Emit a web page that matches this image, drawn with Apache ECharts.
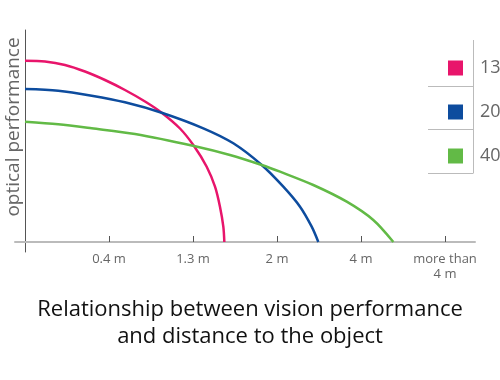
<!DOCTYPE html>
<html>
<head>
<meta charset="utf-8">
<script src="https://cdn.jsdelivr.net/npm/echarts@6/dist/echarts.min.js"></script>
<style>html,body{margin:0;padding:0;background:#fff}#c{width:500px;height:380px}</style>
</head>
<body>
<div id="c"></div>
<script>
// Category tick positions and labels on the distance axis
var tickValues = [1, 2, 3, 4, 5];
var tickLabels = ['0.4 m', '1.3 m', '2 m', '4 m', 'more than\n4 m'];
// Series names (legend)
var seriesNames = ['13', '20', '40'];
// Distance (x) and optical performance (y) pairs
var redX   = [0, 0.238, 0.476, 0.714, 0.952, 1.190, 1.429, 1.627, 1.845, 2.012, 2.163, 2.262, 2.321, 2.361, 2.373];
var redY   = [181.3, 180.5, 177, 170.5, 162, 152, 140.5, 129.3, 113.5, 96, 75.3, 55.3, 35.3, 15.3, 0];
var blueX  = [0, 0.396, 0.794, 1.190, 1.627, 2.123, 2.480, 2.818, 3.075, 3.274, 3.413, 3.492];
var blueY  = [153, 151.3, 146.3, 139.7, 129.3, 113.7, 98.7, 77, 55.3, 35.3, 15.3, 0];
var greenX = [0, 0.396, 0.794, 1.310, 2.012, 2.440, 2.818, 3.036, 3.432, 3.830, 4.146, 4.385];
var greenY = [120.3, 117.7, 113.7, 108, 96, 87, 77, 70.3, 57, 40.3, 22, 0];

function pairs(xs, ys) { return xs.map(function (x, i) { return [x, ys[i]]; }); }

var chart = echarts.init(document.getElementById('c'), null, {renderer: 'canvas'});
var colors = ['#e8156b', '#0d4c9e', '#62ba46'];
var font = '"Open Sans", sans-serif';

chart.setOption({
  animation: false,
  color: colors,
  title: {
    text: 'Relationship between vision performance\nand distance to the object',
    left: 'center',
    top: 291,
    textStyle: {fontFamily: font, fontSize: 22, fontWeight: 'normal', color: '#111', lineHeight: 27}
  },
  legend: {
    data: seriesNames,
    orient: 'vertical',
    left: 443,
    top: 54,
    icon: 'rect',
    itemWidth: 15,
    itemHeight: 15,
    itemGap: 26,
    textStyle: {fontFamily: font, fontSize: 18, color: '#666', lineHeight: 15, padding: [0, 0, 0, 12]}
  },
  grid: {left: 15, right: 25, top: 30, bottom: 128, containLabel: false, outerBoundsMode: 'none'},
  xAxis: {
    type: 'value',
    min: -0.119,
    max: 5.357,
    splitLine: {show: false},
    axisLine: {onZero: true, lineStyle: {color: '#bbbbbb', width: 2}},
    axisTick: {show: true, inside: true, length: 6, customValues: tickValues, lineStyle: {color: '#555', width: 1}},
    axisLabel: {
      customValues: tickValues,
      margin: 0,
      fontFamily: font, fontSize: 13, color: '#666', lineHeight: 15,
      formatter: function (v) { var i = tickValues.indexOf(Math.round(v)); return i >= 0 ? tickLabels[i] : ''; }
    }
  },
  yAxis: {
    type: 'value',
    min: -10,
    max: 212,
    name: 'optical performance',
    nameLocation: 'middle',
    nameRotate: 90,
    nameGap: -8,
    nameTextStyle: {fontFamily: font, fontSize: 19, color: '#666', padding: [0, 0, 0, 28]},
    splitLine: {show: false},
    axisTick: {show: false},
    axisLabel: {show: false},
    axisLine: {onZero: true, lineStyle: {color: '#555', width: 1}}
  },
  graphic: [
    {type: 'line', shape: {x1: 473.5, y1: 40, x2: 473.5, y2: 173}, style: {stroke: '#bbb', lineWidth: 1}},
    {type: 'line', shape: {x1: 428, y1: 86.5, x2: 473.5, y2: 86.5}, style: {stroke: '#bbb', lineWidth: 1}},
    {type: 'line', shape: {x1: 428, y1: 129.5, x2: 473.5, y2: 129.5}, style: {stroke: '#bbb', lineWidth: 1}},
    {type: 'line', shape: {x1: 428, y1: 173.5, x2: 473.5, y2: 173.5}, style: {stroke: '#bbb', lineWidth: 1}}
  ],
  series: [
    {name: seriesNames[0], type: 'line', data: pairs(redX, redY), smooth: 0.3, symbol: 'none', lineStyle: {width: 2.5}},
    {name: seriesNames[1], type: 'line', data: pairs(blueX, blueY), smooth: 0.3, symbol: 'none', lineStyle: {width: 2.5}},
    {name: seriesNames[2], type: 'line', data: pairs(greenX, greenY), smooth: 0.3, symbol: 'none', lineStyle: {width: 2.5}}
  ]
});
</script>
</body>
</html>
